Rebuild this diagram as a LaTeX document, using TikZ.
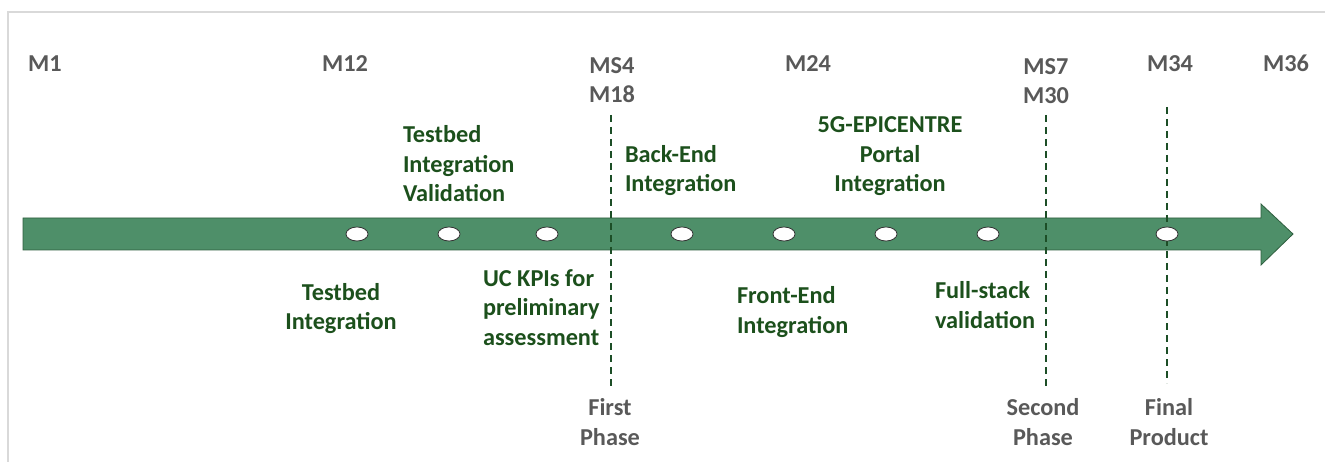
\documentclass[tikz,border=0pt]{standalone}
\usepackage{fontspec}
\setmainfont{Carlito}
\usetikzlibrary{shapes.geometric}
\definecolor{gtext}{HTML}{595959}
\definecolor{ltext}{HTML}{1C501C}
\definecolor{arrowfill}{HTML}{4E8F69}
\definecolor{arrowline}{HTML}{2E5E3E}
\definecolor{dashc}{HTML}{1C4E26}
\definecolor{framec}{HTML}{D9D9D9}
\begin{document}
\begin{tikzpicture}[x=1pt,y=-1pt,
  lab/.style={font=\fontsize{24.3}{29.5}\selectfont\bfseries, inner sep=0pt, outer sep=0pt},
  mlabel/.style={lab, text=gtext, align=center, anchor=base},
  glabelc/.style={lab, text=ltext, align=center, anchor=base},
  glabell/.style={lab, text=ltext, align=left, anchor=base west},
  milestone/.style={ellipse, draw=black!80, line width=0.8pt, fill=white, minimum width=22pt, minimum height=14pt, inner sep=0pt},
  phaseline/.style={dashc, line width=2pt, dash pattern=on 7pt off 5pt}]
\useasboundingbox (0,0) rectangle (1325,462);
% frame
\draw[framec, line width=1.5pt] (8,462) -- (8,12) -- (1325,12);
% arrow
\draw[arrowline, fill=arrowfill, line width=0.8pt] (23,218) -- (1261,218) -- (1261,204) -- (1293,234) -- (1261,265) -- (1261,250) -- (23,250) -- cycle;
% dashed phase lines
\coordinate (p1t) at (611,115); \coordinate (p1b) at (611,388);
\coordinate (p2t) at (1046,115); \coordinate (p2b) at (1046,388);
\coordinate (p3t) at (1167,107); \coordinate (p3b) at (1167,383);
\draw[phaseline] (p1t) -- (p1b);
\draw[phaseline] (p2t) -- (p2b);
\draw[phaseline] (p3t) -- (p3b);
% milestones
\node[milestone] (e1) at (357,234) {};
\node[milestone] (e2) at (449,234) {};
\node[milestone] (e3) at (547,234) {};
\node[milestone] (e4) at (682,234) {};
\node[milestone] (e5) at (784,234) {};
\node[milestone] (e6) at (886,234) {};
\node[milestone] (e7) at (988,234) {};
\node[milestone] (e8) at (1167,234) {};
% month labels (base anchor = baseline of last line)
\node[mlabel] (m1) at (45,72) {M1};
\node[mlabel] (m12) at (345,72) {M12};
\node[mlabel] (m18) at (612,103) {MS4\\M18};
\node[mlabel] (m24) at (808,72) {M24};
\node[mlabel] (m30) at (1046,104) {MS7\\M30};
\node[mlabel] (m34) at (1170,72) {M34};
\node[mlabel] (m36) at (1286,72) {M36};
% phase labels
\node[mlabel] (ph1) at (610,445) {First\\Phase};
\node[mlabel] (ph2) at (1043,445) {Second\\Phase};
\node[mlabel] (ph3) at (1169,445) {Final\\Product};
% activity labels
\node[glabell] (tiv) at (403,202) {Testbed\\Integration\\Validation};
\node[glabelc] (ti) at (341,330) {Testbed\\Integration};
\node[glabell] (uc) at (483,345) {UC KPIs for\\preliminary\\assessment};
\node[glabell] (be) at (625,192) {Back-End\\Integration};
\node[glabelc] (epi) at (890,192) {5G-EPICENTRE\\Portal\\Integration};
\node[glabell] (fe) at (737,333) {Front-End\\Integration};
\node[glabell] (fs) at (935,328) {Full-stack\\validation};
\end{tikzpicture}
\end{document}
